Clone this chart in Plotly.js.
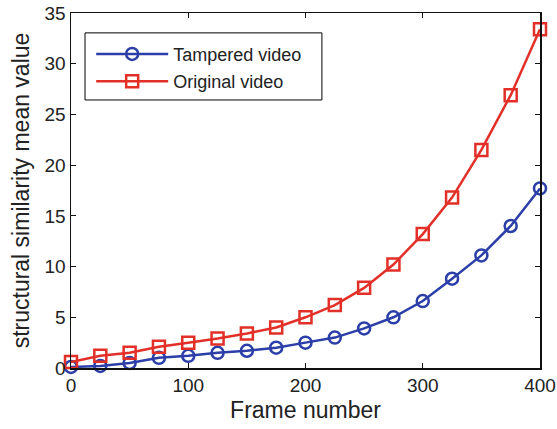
<!DOCTYPE html>
<html>
<head>
<meta charset="utf-8">
<script src="https://cdn.plot.ly/plotly-3.0.1.min.js"></script>
<style>html,body{margin:0;padding:0;background:#fff;}#chart{width:557px;height:429px;}</style>
</head>
<body>
<div id="chart"></div>
<script>
const frames = [0, 25, 50, 75, 100, 125, 150, 175, 200, 225, 250, 275, 300, 325, 350, 375, 400];
const tampered = [0.1, 0.2, 0.5, 1.0, 1.2, 1.5, 1.7, 2.0, 2.5, 3.0, 3.9, 5.0, 6.6, 8.8, 11.1, 14.0, 17.7];
const original = [0.6, 1.2, 1.5, 2.1, 2.5, 2.9, 3.4, 4.0, 5.0, 6.2, 7.9, 10.2, 13.2, 16.8, 21.5, 26.9, 33.4];
const seriesNames = ['Tampered video', 'Original video'];
const xTicks = [0, 100, 200, 300, 400];
const yTicks = [0, 5, 10, 15, 20, 25, 30, 35];

const blue = 'rgb(44,62,168)';
const red = 'rgb(226,48,40)';
const font = 'Liberation Sans, Arial, sans-serif';

const traces = [
  {x: frames, y: tampered, name: seriesNames[0], type: 'scatter', mode: 'lines+markers',
   line: {color: blue, width: 2.5},
   marker: {symbol: 'circle-open', size: 12, color: blue, line: {width: 2.5, color: blue}},
   cliponaxis: false, legendgroup: 'a'},
  {x: frames, y: original, name: seriesNames[1], type: 'scatter', mode: 'lines+markers',
   line: {color: red, width: 2.5},
   marker: {symbol: 'square-open', size: 12, color: red, line: {width: 2.5, color: red}},
   cliponaxis: false, legendgroup: 'b'}
];

const axisCommon = {
  showgrid: false, zeroline: false, showline: true, linecolor: '#111', linewidth: 1.5,
  mirror: 'ticks', ticks: 'inside', ticklen: 5, tickwidth: 1, tickcolor: '#111',
  tickfont: {family: font, size: 19, color: '#222'}
};

const layout = {
  width: 557, height: 429,
  margin: {l: 71, r: 17, t: 13, b: 61},
  paper_bgcolor: '#fff', plot_bgcolor: '#fff',
  font: {family: font, color: '#222'},
  showlegend: true,
  legend: {x: 0.043, y: 0.936, xanchor: 'left', yanchor: 'top',
    bgcolor: 'rgba(0,0,0,0)', borderwidth: 0, traceorder: 'grouped', tracegroupgap: 1,
    font: {family: font, size: 18, color: '#222'}, itemwidth: 72},
  shapes: [{type: 'rect', xref: 'paper', yref: 'paper', x0: 0.0299, x1: 0.535, y0: 0.755, y1: 0.944,
    line: {color: '#000', width: 1}, fillcolor: '#fff', layer: 'above'}],
  xaxis: Object.assign({}, axisCommon, {range: [0, 400], tickvals: xTicks,
    title: {text: 'Frame number', font: {family: font, size: 23, color: '#222'}, standoff: 6}}),
  yaxis: Object.assign({}, axisCommon, {range: [0, 35], tickvals: yTicks,
    title: {text: 'structural similarity mean value', font: {family: font, size: 23, color: '#222'}, standoff: 8}})
};

Plotly.newPlot('chart', traces, layout, {displayModeBar: false, staticPlot: true});
</script>
</body>
</html>
